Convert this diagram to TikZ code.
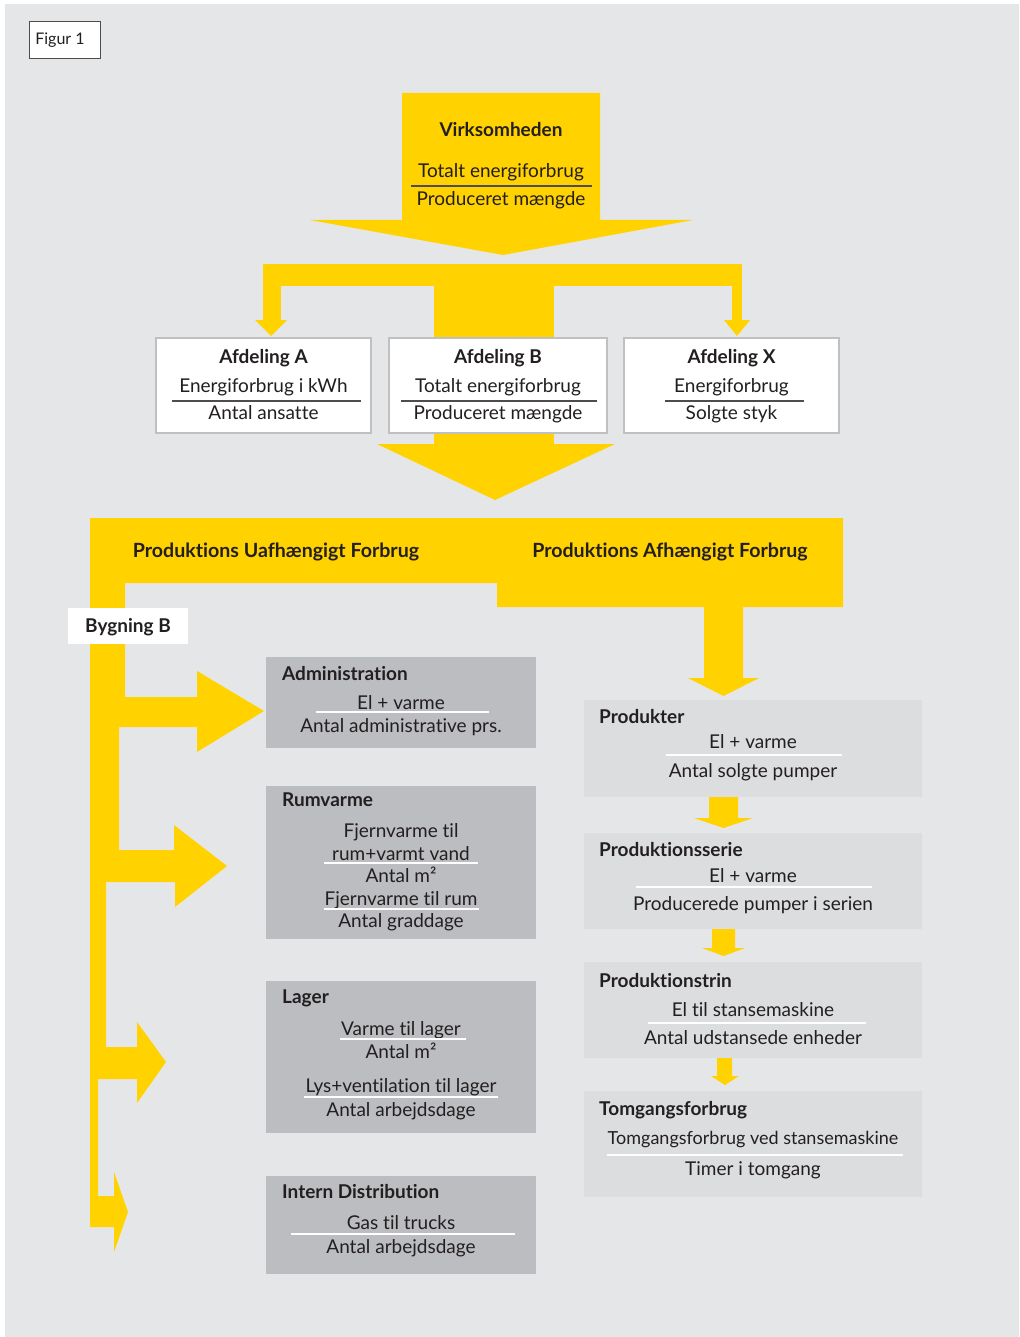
\documentclass[tikz,border=0pt]{standalone}
\usepackage{fontspec}
\setmainfont{Lato}[Ligatures={NoCommon}]
\definecolor{bg}{HTML}{E5E6E8}
\definecolor{ylw}{HTML}{FFD200}
\definecolor{gbox}{HTML}{BCBDC0}
\definecolor{lbox}{HTML}{DCDDDF}
\definecolor{bord}{HTML}{BFC0C2}
\definecolor{ink}{HTML}{231F20}
\begin{document}
\begin{tikzpicture}[x=1pt,y=-1pt,
  txt/.style={anchor=base,inner sep=0pt,text=ink,font=\fontsize{19}{21}\selectfont},
  ttl/.style={anchor=base,inner sep=0pt,text=ink,font=\fontsize{19}{21}\selectfont\bfseries},
  ttlL/.style={anchor=base west,inner sep=0pt,text=ink,font=\fontsize{19}{21}\selectfont\bfseries},
  band/.style={anchor=base,inner sep=0pt,text=ink,font=\fontsize{19.6}{22}\selectfont\bfseries},
  whitebox/.style={draw=bord,line width=2pt,fill=white,inner sep=0pt},
  graybox/.style={fill=gbox,inner sep=0pt},
  lightbox/.style={fill=lbox,inner sep=0pt},
  darkrule/.style={draw=ink!80,line width=1.5pt},
  whiterule/.style={draw=white,line width=1.5pt},
  yarrow/.style={fill=ylw}]
\useasboundingbox (0,0) rectangle (1019,1337);
\fill[bg] (5,4) rectangle (1019,1337);

% Figur 1
\node[draw=ink!80,line width=0.8pt,fill=white,minimum width=71pt,minimum height=37pt,inner sep=0pt] (fig) at (64.5,39.5) {};
\node[txt,font=\fontsize{16}{18}\selectfont] (figt) at (60,45) {Figur 1};

% top arrow
\fill[yarrow] (402,93) -- (600,93) -- (600,220) -- (693,220) -- (503,255) -- (310,220) -- (402,220) -- cycle;
\node[ttl] (virk) at (501,137) {Virksomheden};
\node[txt] (virk1) at (501,178) {Totalt energiforbrug};
\draw[darkrule] (411,186) -- (592,186);
\node[txt] (virk2) at (501,206) {Produceret mængde};

% distributor
\fill[yarrow] (263,264) rectangle (742,286);
\fill[yarrow] (263,286) rectangle (281,320);
\fill[yarrow] (255,320) -- (287,320) -- (271,336) -- cycle;
\fill[yarrow] (732,286) rectangle (742,320);
\fill[yarrow] (724,320) -- (750,320) -- (737,336) -- cycle;
\fill[yarrow] (434,264) rectangle (554,444);
\fill[yarrow] (377,444) -- (615,444) -- (495,500) -- cycle;

% Afdeling boxes
\node[whitebox,minimum width=215pt,minimum height=95pt] (afdA) at (263.5,385.5) {};
\node[whitebox,minimum width=218pt,minimum height=95pt] (afdB) at (498,385.5) {};
\node[whitebox,minimum width=215pt,minimum height=95pt] (afdX) at (731.5,385.5) {};
\node[ttl] (afdAt) at (263.5,363) {Afdeling A};
\node[txt] (afdA1) at (263.5,392) {Energiforbrug i kWh};
\draw[darkrule] (172,401) -- (361,401);
\node[txt] (afdA2) at (263.5,419) {Antal ansatte};
\node[ttl] (afdBt) at (498,363) {Afdeling B};
\node[txt] (afdB1) at (498,392) {Totalt energiforbrug};
\draw[darkrule] (401,401) -- (597,401);
\node[txt] (afdB2) at (498,419) {Produceret mængde};
\node[ttl] (afdXt) at (731.5,363) {Afdeling X};
\node[txt] (afdX1) at (731.5,392) {Energiforbrug};
\draw[darkrule] (665,401) -- (804,401);
\node[txt] (afdX2) at (731.5,419) {Solgte styk};

% band and left branches
\fill[yarrow] (90,518) -- (843,518) -- (843,607) -- (497,607) -- (497,583) -- (125,583)
  -- (125,697) -- (197,697) -- (197,671) -- (264,711) -- (197,752) -- (197,727) -- (119,727)
  -- (119,850) -- (174,850) -- (174,825) -- (227,866) -- (175,907) -- (175,882) -- (106,882)
  -- (106,1047) -- (137,1047) -- (137,1022) -- (166,1062) -- (137,1103) -- (137,1079) -- (98,1079)
  -- (98,1196) -- (114,1196) -- (114,1172) -- (128,1212) -- (114,1252) -- (114,1227) -- (90,1227) -- cycle;
\node[band] (uaf) at (276,557) {Produktions Uafhængigt Forbrug};
\node[band] (afh) at (670,557) {Produktions Afhængigt Forbrug};

\node[fill=white,minimum width=120pt,minimum height=36pt,inner sep=0pt] (byg) at (128,626) {};
\node[ttl] (bygt) at (128,632) {Bygning B};

% right arrows
\fill[yarrow] (704,607) -- (743,607) -- (743,678) -- (759,678) -- (723.5,696) -- (688,678) -- (704,678) -- cycle;
\fill[yarrow] (709,797) -- (738,797) -- (738,818) -- (753,818) -- (723.5,828) -- (694,818) -- (709,818) -- cycle;
\fill[yarrow] (712,929) -- (735,929) -- (735,948) -- (745,948) -- (723.5,956) -- (702,948) -- (712,948) -- cycle;
\fill[yarrow] (717,1058) -- (732,1058) -- (732,1076) -- (739,1076) -- (725,1085) -- (711,1076) -- (717,1076) -- cycle;

% left gray boxes
\node[graybox,minimum width=270pt,minimum height=91pt] (adm) at (401,702.5) {};
\node[ttlL] (admt) at (282,680) {Administration};
\node[txt] (adm1) at (401,709) {El + varme};
\draw[whiterule] (316,712) -- (489,712);
\node[txt] (adm2) at (401,732) {Antal administrative prs.};

\node[graybox,minimum width=270pt,minimum height=153pt] (rum) at (401,862.5) {};
\node[ttlL] (rumt) at (282,806) {Rumvarme};
\node[txt] (rum1) at (401,837) {Fjernvarme til};
\node[txt] (rum2) at (401,860) {rum+varmt vand};
\draw[whiterule] (324,863) -- (478,863);
\node[txt] (rum3) at (401,882) {Antal m²};
\node[txt] (rum4) at (401,905) {Fjernvarme til rum};
\draw[whiterule] (324,909) -- (479,909);
\node[txt] (rum5) at (401,927) {Antal graddage};

\node[graybox,minimum width=270pt,minimum height=152pt] (lag) at (401,1057) {};
\node[ttlL] (lagt) at (282,1003) {Lager};
\node[txt] (lag1) at (401,1035) {Varme til lager};
\draw[whiterule] (340,1039) -- (466,1039);
\node[txt] (lag2) at (401,1058) {Antal m²};
\node[txt] (lag3) at (401,1092) {Lys+ventilation til lager};
\draw[whiterule] (304,1097) -- (498,1097);
\node[txt] (lag4) at (401,1116) {Antal arbejdsdage};

\node[graybox,minimum width=270pt,minimum height=98pt] (int) at (401,1225) {};
\node[ttlL] (intt) at (282,1198) {Intern Distribution};
\node[txt] (int1) at (401,1229) {Gas til trucks};
\draw[whiterule] (291,1234) -- (515,1234);
\node[txt] (int2) at (401,1253) {Antal arbejdsdage};

% right light boxes
\node[lightbox,minimum width=338pt,minimum height=97pt] (prd) at (753,748.5) {};
\node[ttlL] (prdt) at (599,723) {Produkter};
\node[txt] (prd1) at (753,748) {El + varme};
\draw[whiterule] (666,755) -- (842,755);
\node[txt] (prd2) at (753,777) {Antal solgte pumper};

\node[lightbox,minimum width=338pt,minimum height=96pt] (ser) at (753,881) {};
\node[ttlL] (sert) at (599,856) {Produktionsserie};
\node[txt] (ser1) at (753,882) {El + varme};
\draw[whiterule] (636,887) -- (872,887);
\node[txt] (ser2) at (753,910) {Producerede pumper i serien};

\node[lightbox,minimum width=338pt,minimum height=96pt] (trin) at (753,1010) {};
\node[ttlL] (trint) at (599,987) {Produktionstrin};
\node[txt] (trin1) at (753,1016) {El til stansemaskine};
\draw[whiterule] (648,1023) -- (866,1023);
\node[txt] (trin2) at (753,1044) {Antal udstansede enheder};

\node[lightbox,minimum width=338pt,minimum height=106pt] (tom) at (753,1144) {};
\node[ttlL] (tomt) at (599,1115) {Tomgangsforbrug};
\node[txt,font=\fontsize{18}{20}\selectfont] (tom1) at (753,1144) {Tomgangsforbrug ved stansemaskine};
\draw[whiterule] (607,1155) -- (903,1155);
\node[txt] (tom2) at (753,1175) {Timer i tomgang};
\end{tikzpicture}
\end{document}
